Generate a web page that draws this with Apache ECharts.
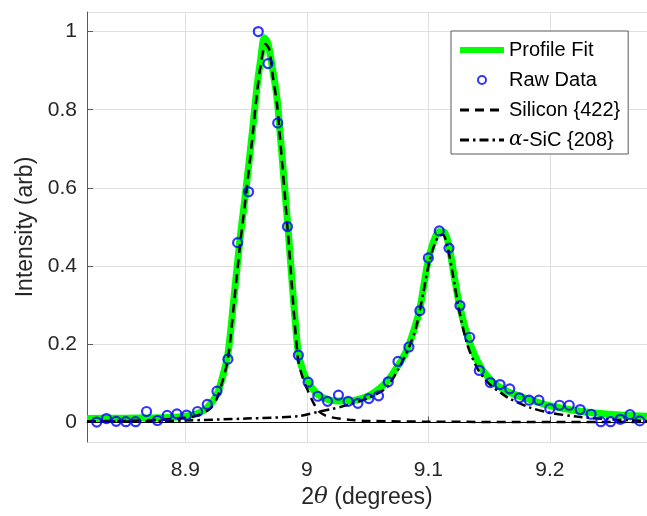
<!DOCTYPE html>
<html>
<head>
<meta charset="utf-8">
<script src="https://cdn.jsdelivr.net/npm/echarts@6/dist/echarts.min.js"></script>
<style>
    html, body { margin: 0; padding: 0; background: #fff; }
    #chart { width: 647px; height: 516px; }
</style>
</head>
<body>
<div id="chart"></div>
<script>
// 측정 데이터 (2theta, intensity)
const rawX = [8.818, 8.827, 8.835, 8.843, 8.851, 8.859, 8.868, 8.877, 8.885, 8.893,
    8.901, 8.910, 8.918, 8.926, 8.935, 8.943, 8.952, 8.960, 8.968, 8.976,
    8.984, 8.993, 9.001, 9.009, 9.017, 9.026, 9.034, 9.042, 9.051, 9.059,
    9.067, 9.075, 9.084, 9.093, 9.100, 9.109, 9.117, 9.126, 9.134, 9.142,
    9.151, 9.159, 9.167, 9.175, 9.183, 9.191, 9.200, 9.208, 9.216, 9.225,
    9.234, 9.242, 9.250, 9.258, 9.266, 9.274];
const rawY = [0.008, 0.001, 0.010, 0.003, 0.002, 0.002, 0.028, 0.005, 0.018, 0.022,
    0.019, 0.028, 0.046, 0.080, 0.162, 0.460, 0.590, 1.000, 0.918, 0.766,
    0.501, 0.172, 0.103, 0.067, 0.054, 0.070, 0.054, 0.049, 0.061, 0.068,
    0.104, 0.156, 0.193, 0.286, 0.421, 0.490, 0.446, 0.299, 0.218, 0.133,
    0.102, 0.097, 0.086, 0.063, 0.057, 0.057, 0.035, 0.044, 0.044, 0.033,
    0.021, 0.002, 0.002, 0.008, 0.020, 0.004];

// 피팅 곡선
const fitX = [8.819, 8.85, 8.88, 8.90, 8.91, 8.918, 8.926, 8.930, 8.935, 8.940,
    8.945, 8.950, 8.955, 8.959, 8.962, 8.965, 8.968, 8.972, 8.9754, 8.978,
    8.9844, 8.9926, 8.997, 9.001, 9.005, 9.009, 9.0176, 9.025, 9.034, 9.050,
    9.061, 9.067, 9.072, 9.078, 9.083, 9.088, 9.0926, 9.096, 9.0993, 9.104,
    9.1089, 9.113, 9.117, 9.1215, 9.126, 9.1334, 9.143, 9.1525, 9.160, 9.1674,
    9.1838, 9.200, 9.222, 9.249, 9.280];
const fitY = [0.010, 0.011, 0.012, 0.016, 0.023, 0.038, 0.072, 0.110, 0.175, 0.320,
    0.470, 0.600, 0.740, 0.860, 0.930, 0.984, 0.970, 0.900, 0.830, 0.740,
    0.500, 0.185, 0.130, 0.103, 0.085, 0.071, 0.058, 0.055, 0.055, 0.067,
    0.090, 0.108, 0.131, 0.160, 0.190, 0.235, 0.285, 0.345, 0.405, 0.460,
    0.488, 0.487, 0.452, 0.370, 0.295, 0.210, 0.142, 0.105, 0.088, 0.076,
    0.058, 0.043, 0.030, 0.021, 0.016];

const siX = [8.819, 8.85, 8.88, 8.90, 8.91, 8.92, 8.926, 8.930, 8.935, 8.940,
    8.945, 8.950, 8.955, 8.959, 8.962, 8.966, 8.969, 8.972, 8.9754, 8.978,
    8.9844, 8.9926, 8.997, 9.001, 9.0054, 9.010, 9.015, 9.0206, 9.035, 9.05,
    9.10, 9.20, 9.28];
const siY = [0.003, 0.004, 0.007, 0.012, 0.018, 0.034, 0.062, 0.100, 0.163, 0.305,
    0.455, 0.585, 0.725, 0.845, 0.915, 0.968, 0.955, 0.885, 0.815, 0.725,
    0.485, 0.165, 0.110, 0.080, 0.050, 0.028, 0.018, 0.013, 0.007, 0.004,
    0.002, 0.001, 0.001];

const sicX = [8.819, 8.86, 8.90, 8.95, 8.993, 9.009, 9.020, 9.034, 9.050, 9.064,
    9.070, 9.075, 9.080, 9.0857, 9.090, 9.0926, 9.096, 9.1007, 9.105, 9.1089,
    9.112, 9.1157, 9.1198, 9.1252, 9.132, 9.140, 9.146, 9.151, 9.160, 9.1674,
    9.1838, 9.200, 9.222, 9.249, 9.280];
const sicY = [0.002, 0.003, 0.005, 0.010, 0.016, 0.027, 0.034, 0.045, 0.062, 0.085,
    0.108, 0.135, 0.165, 0.205, 0.245, 0.280, 0.335, 0.410, 0.455, 0.478,
    0.480, 0.450, 0.385, 0.290, 0.200, 0.140, 0.113, 0.096, 0.075, 0.060,
    0.038, 0.025, 0.015, 0.008, 0.004];

const zip = (xs, ys) => xs.map((x, i) => [x, ys[i]]);

const FONT = '"Liberation Sans", Arial, sans-serif';
const TEXT_COLOR = '#262626';
const AXIS_COLOR = '#5a5a5a';

const chart = echarts.init(document.getElementById('chart'));

const option = {
    animation: false,
    backgroundColor: '#fff',
    grid: {
        left: 87,
        top: 12,
        width: 564,
        height: 430
    },
    legend: {
        orient: 'vertical',
        left: 451,
        top: 31,
        padding: [9, 8, 4, 6],
        itemWidth: 44,
        itemHeight: 8,
        itemGap: 10,
        backgroundColor: '#fff',
        borderColor: '#5a5a5a',
        borderWidth: 1,
        borderRadius: 0,
        textStyle: {
            fontFamily: FONT,
            fontSize: 20,
            color: '#000',
            rich: {
                i: { fontFamily: '"DejaVu Serif", serif', fontStyle: 'italic', fontSize: 20, color: '#000' }
            }
        },
        formatter: name => name.startsWith('α') ? '{i|α}' + name.slice(1) : name,
        data: [
            { name: 'Profile Fit', lineStyle: { width: 6 } },
            { name: 'Raw Data' },
            { name: 'Silicon {422}', lineStyle: { width: 3 } },
            { name: 'α-SiC {208}', lineStyle: { width: 3 } }
        ]
    },
    xAxis: {
        type: 'value',
        min: 8.819,
        max: 9.28,
        name: '2{i|θ} (degrees)',
        nameLocation: 'middle',
        nameGap: 36,
        nameTextStyle: {
            fontFamily: FONT,
            fontSize: 23,
            color: TEXT_COLOR,
            rich: {
                i: { fontFamily: '"DejaVu Serif", serif', fontStyle: 'italic', fontSize: 23, color: TEXT_COLOR }
            }
        },
        axisLine: { show: true, lineStyle: { color: AXIS_COLOR, width: 1 } },
        axisTick: { show: true, inside: true, length: 6, lineStyle: { color: AXIS_COLOR } },
        axisLabel: {
            showMinLabel: false,
            showMaxLabel: false,
            margin: 18,
            fontFamily: FONT,
            fontSize: 21,
            color: TEXT_COLOR
        },
        splitLine: { show: true, lineStyle: { color: '#e0e0e0', width: 1 } }
    },
    yAxis: {
        type: 'value',
        min: -0.05,
        max: 1.05,
        name: 'Intensity (arb)',
        nameLocation: 'middle',
        nameGap: 50,
        nameTextStyle: { fontFamily: FONT, fontSize: 23, color: TEXT_COLOR },
        axisLine: { show: true, lineStyle: { color: AXIS_COLOR, width: 1 } },
        axisTick: { show: true, inside: true, length: 6, lineStyle: { color: AXIS_COLOR } },
        axisLabel: {
            showMinLabel: false,
            showMaxLabel: false,
            margin: 10,
            fontFamily: FONT,
            fontSize: 21,
            color: TEXT_COLOR
        },
        splitLine: { show: true, lineStyle: { color: '#e0e0e0', width: 1 } }
    },
    series: [
        {
            name: 'Profile Fit',
            type: 'line',
            data: zip(fitX, fitY),
            symbol: 'none',
            smooth: 0.3,
            itemStyle: { color: 'rgba(0,0,0,0)' },
            lineStyle: { color: '#00ff00', width: 7 }
        },
        {
            name: 'Raw Data',
            type: 'scatter',
            data: zip(rawX, rawY),
            symbol: 'circle',
            symbolSize: 9,
            z: 5,
            itemStyle: { color: 'rgba(0,0,0,0)', borderColor: '#0000ff', borderWidth: 2.2 }
        },
        {
            name: 'Silicon {422}',
            type: 'line',
            data: zip(siX, siY),
            symbol: 'none',
            smooth: 0.3,
            itemStyle: { color: 'rgba(0,0,0,0)' },
            lineStyle: { color: '#000', width: 2.5, type: [9, 6] },
            markLine: {
                silent: true,
                symbol: 'none',
                label: { show: false },
                lineStyle: { color: '#000', width: 1, type: 'solid' },
                data: [{ yAxis: 0 }]
            }
        },
        {
            name: 'α-SiC {208}',
            type: 'line',
            data: zip(sicX, sicY),
            symbol: 'none',
            smooth: 0.3,
            itemStyle: { color: 'rgba(0,0,0,0)' },
            lineStyle: { color: '#000', width: 2.5, type: [9, 4, 2.5, 4] }
        }
    ]
};

chart.setOption(option);
</script>
</body>
</html>
